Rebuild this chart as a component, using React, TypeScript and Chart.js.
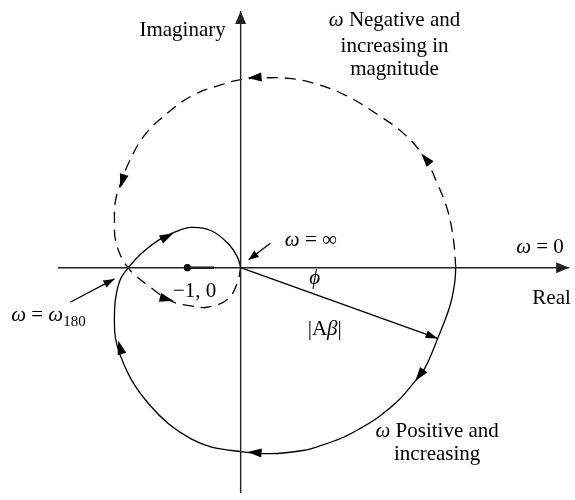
import { useEffect, useRef } from "react";
import { Chart, registerables } from "chart.js";

Chart.register(...registerables);

type P = [number, number];

// Loop-gain polar plot, ω > 0: from ω = 0 on the real axis, round the bottom,
// through the -180° crossing (ω180) and into the origin at ω = ∞.
const positiveBranch: P[] = [
  [4.04, 0], [4.02, -0.28], [3.93, -0.72], [3.7, -1.33], [3.46, -1.89],
  [3.28, -2.13], [2.96, -2.5], [2.59, -2.81], [2.22, -3.04], [1.91, -3.2],
  [1.5, -3.35], [1.17, -3.44], [0.56, -3.5], [0, -3.46], [-0.56, -3.37],
  [-0.93, -3.22], [-1.35, -2.94], [-1.72, -2.57], [-2.04, -2.13], [-2.26, -1.65],
  [-2.35, -1.33], [-2.37, -0.96], [-2.35, -0.59], [-2.26, -0.22], [-2.11, 0],
  [-1.85, 0.28], [-1.54, 0.52], [-1.24, 0.67], [-0.93, 0.76], [-0.56, 0.7],
  [-0.24, 0.46], [-0.06, 0.2], [0, 0],
];

// ω < 0 branch (dashed), traced from ω = 0 as |ω| grows.
const negativeBranch: P[] = [
  [4.04, 0], [4.0, 0.5], [3.89, 1.07], [3.7, 1.57], [3.46, 2.06],
  [3.09, 2.5], [2.59, 2.87], [1.98, 3.24], [1.35, 3.48], [0.83, 3.57],
  [0.37, 3.57], [0, 3.54], [-0.37, 3.44], [-0.87, 3.26], [-1.35, 2.93],
  [-1.8, 2.5], [-2.09, 2.0], [-2.26, 1.57], [-2.35, 1.26], [-2.37, 0.89],
  [-2.35, 0.52], [-2.22, 0.15], [-2.11, 0], [-2.04, -0.09], [-1.72, -0.35],
  [-1.3, -0.63], [-0.93, -0.72], [-0.61, -0.74], [-0.24, -0.59], [-0.06, -0.28],
  [0, 0],
];

// Direction markers sitting on each branch
const positiveArrows: P[] = [[3.28, -2.13], [0.13, -3.47], [-2.3, -1.37], [-1.26, 0.65]];
const negativeArrows: P[] = [[3.39, 2.15], [0.13, 3.57], [-2.26, 1.5], [-1.26, -0.62]];

const realAxis: P[] = [[-3.43, 0], [6.17, 0]];
const imagAxis: P[] = [[0, -4.24], [0, 4.83]];
const criticalPoint: P[] = [[-1, 0], [-0.5, 0]];
const phasor: P[] = [[0, 0], [3.7, -1.33]];
const infinityPointer: P[] = [[0.56, 0.46], [0.15, 0.15]];
const w180Pointer: P[] = [[-3.2, -0.65], [-2.37, -0.21]];

const X_RANGE: P = [-4.444, 6.204];
const Y_RANGE: P = [-4.296, 4.963];

const SERIF = '"Liberation Serif", "Times New Roman", serif';
const FONT_PX = 21;

type Run = { t: string; italic?: boolean; sub?: boolean };
type Label = { at: P; align: "left" | "center" | "right"; runs: Run[] };

const labels: Label[] = [
  { at: [-0.28, 4.37], align: "right", runs: [{ t: "Imaginary" }] },
  { at: [2.89, 4.54], align: "center", runs: [{ t: "ω", italic: true }, { t: " Negative and" }] },
  { at: [2.89, 4.06], align: "center", runs: [{ t: "increasing in" }] },
  { at: [2.89, 3.63], align: "center", runs: [{ t: "magnitude" }] },
  { at: [0.83, 0.41], align: "left", runs: [{ t: "ω", italic: true }, { t: " = ∞" }] },
  { at: [6.07, 0.28], align: "right", runs: [{ t: "ω", italic: true }, { t: " = 0" }] },
  { at: [6.2, -0.69], align: "right", runs: [{ t: "Real" }] },
  { at: [1.39, -0.31], align: "center", runs: [{ t: "ϕ", italic: true }] },
  { at: [1.26, -1.26], align: "left", runs: [{ t: "|A" }, { t: "β", italic: true }, { t: "|" }] },
  { at: [3.69, -3.19], align: "center", runs: [{ t: "ω", italic: true }, { t: " Positive and" }] },
  { at: [3.69, -3.61], align: "center", runs: [{ t: "increasing" }] },
  { at: [-1.27, -0.56], align: "left", runs: [{ t: "−1, 0" }] },
  {
    at: [-4.31, -1.0],
    align: "left",
    runs: [{ t: "ω", italic: true }, { t: " = " }, { t: "ω", italic: true }, { t: "180", sub: true }],
  },
];

const toPts = (a: P[]) => a.map(([x, y]) => ({ x, y }));

function fontFor(r: Run) {
  const size = r.sub ? 15 : FONT_PX;
  return `${r.italic ? "italic " : ""}${size}px ${SERIF}`;
}

function drawHead(ctx: CanvasRenderingContext2D, tx: number, ty: number, dx: number, dy: number, len: number, half: number) {
  const n = Math.hypot(dx, dy) || 1;
  const ux = dx / n;
  const uy = dy / n;
  const bx = tx - ux * len;
  const by = ty - uy * len;
  ctx.beginPath();
  ctx.moveTo(tx, ty);
  ctx.lineTo(bx - uy * half, by + ux * half);
  ctx.lineTo(bx + uy * half, by - ux * half);
  ctx.closePath();
  ctx.fill();
}

const overlayPlugin = {
  id: "overlay",
  afterDatasetsDraw(chart: any) {
    const { ctx, scales } = chart;
    const px = (p: P): P => [scales.x.getPixelForValue(p[0]), scales.y.getPixelForValue(p[1])];
    ctx.save();
    ctx.fillStyle = "#000";

    // arrowheads on the ends of straight segments
    const ends: [P[], number, number, string][] = [
      [realAxis, 13, 5.5, "#222"],
      [imagAxis, 13, 5.5, "#222"],
      [phasor, 12, 4, "#000"],
      [infinityPointer, 10, 4, "#000"],
      [w180Pointer, 11, 4, "#000"],
    ];
    for (const [seg, len, half, col] of ends) {
      const a = px(seg[seg.length - 2]);
      const b = px(seg[seg.length - 1]);
      ctx.fillStyle = col;
      drawHead(ctx, b[0], b[1], b[0] - a[0], b[1] - a[1], len, half);
    }

    // direction arrows along each branch, aligned with the local chord
    ctx.fillStyle = "#000";
    const along = (branch: P[], marks: P[]) => {
      const pts = branch.map(px);
      for (const m of marks) {
        const [mx, my] = px(m);
        let best = 0;
        let bestD = Infinity;
        for (let i = 0; i < pts.length - 1; i++) {
          const [ax, ay] = pts[i];
          const [bx, by] = pts[i + 1];
          const vx = bx - ax;
          const vy = by - ay;
          const l2 = vx * vx + vy * vy || 1;
          const t = Math.max(0, Math.min(1, ((mx - ax) * vx + (my - ay) * vy) / l2));
          const d = Math.hypot(ax + vx * t - mx, ay + vy * t - my);
          if (d < bestD) {
            bestD = d;
            best = i;
          }
        }
        const a = pts[Math.max(0, best - (best > 0 && Math.hypot(pts[best][0] - mx, pts[best][1] - my) < 2 ? 1 : 0))];
        const b = pts[best + 1];
        drawHead(ctx, mx, my, b[0] - a[0], b[1] - a[1], 14, 4.5);
      }
    };
    along(positiveBranch, positiveArrows);
    along(negativeBranch, negativeArrows);

    // text
    ctx.textBaseline = "alphabetic";
    ctx.textAlign = "left";
    for (const lab of labels) {
      const [x, y] = px(lab.at);
      let total = 0;
      const widths = lab.runs.map((r) => {
        ctx.font = fontFor(r);
        const w = ctx.measureText(r.t).width;
        total += w;
        return w;
      });
      let cx = lab.align === "left" ? x : lab.align === "right" ? x - total : x - total / 2;
      lab.runs.forEach((r, i) => {
        ctx.font = fontFor(r);
        ctx.fillText(r.t, cx, r.sub ? y + 5 : y);
        cx += widths[i];
      });
    }
    ctx.restore();
  },
};

export default function App() {
  const ref = useRef<HTMLCanvasElement | null>(null);

  useEffect(() => {
    document.body.style.margin = "0";
    const canvas = ref.current;
    if (!canvas) return;

    const line = (data: P[], extra: Record<string, unknown> = {}) => ({
      data: toPts(data),
      showLine: true,
      pointRadius: 0,
      borderColor: "#000",
      backgroundColor: "#000",
      borderWidth: 1.3,
      fill: false,
      ...extra,
    });

    const chart = new Chart(canvas, {
      type: "scatter",
      data: {
        datasets: [
          line(realAxis, { borderColor: "#222", borderWidth: 1.4 }),
          line(imagAxis, { borderColor: "#222", borderWidth: 1.4 }),
          line(positiveBranch, { tension: 0.4 }),
          line(negativeBranch, { tension: 0.4, borderDash: [11, 7] }),
          line(phasor),
          line(infinityPointer),
          line(w180Pointer),
          line(criticalPoint, {
            borderWidth: 2.4,
            pointRadius: [3.6, 0],
            pointBorderWidth: 0,
            pointBackgroundColor: "#000",
          }),
        ] as any,
      },
      options: {
        animation: false,
        responsive: false,
        events: [],
        layout: { padding: 0 },
        plugins: { legend: { display: false }, tooltip: { enabled: false } },
        scales: {
          x: { type: "linear", display: false, min: X_RANGE[0], max: X_RANGE[1] },
          y: { type: "linear", display: false, min: Y_RANGE[0], max: Y_RANGE[1] },
        },
      },
      plugins: [overlayPlugin],
    });

    return () => chart.destroy();
  }, []);

  return <canvas ref={ref} width={575} height={500} style={{ display: "block" }} />;
}
